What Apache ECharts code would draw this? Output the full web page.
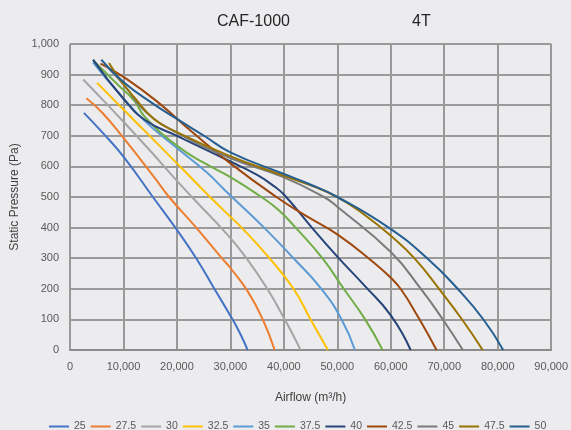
<!DOCTYPE html>
<html>
<head>
<meta charset="utf-8">
<script src="https://cdn.jsdelivr.net/npm/echarts@6/dist/echarts.min.js"></script>
<style>
html,body{margin:0;padding:0;background:#ececef;}
#chart{width:571px;height:430px;}
</style>
</head>
<body>
<div id="chart"></div>
<script>
// Fan curves: [airflow m3/h, static pressure Pa]
const s25   = [[2600,775],[6000,712],[10000,632],[15500,500],[19700,400],[23600,300],[27000,200],[29800,118],[31700,58],[33220,0]];
const s27_5 = [[3070,823],[6000,776],[10000,693],[15950,560],[18540,500],[23600,400],[28400,300],[30000,268],[33300,190],[36100,98],[38280,0]];
const s30   = [[2460,884],[6000,820],[10000,746],[15000,651],[19800,557],[22800,500],[29600,374],[33000,300],[36900,200],[39900,108],[41700,50],[43120,0]];
const s32_5 = [[5050,873],[10000,786],[15000,698],[20000,610],[23200,553],[26200,500],[29600,442],[32100,400],[37300,300],[41800,200],[45000,100],[48240,0]];
const s35   = [[4300,940],[9000,842],[13900,750],[20000,660],[25600,580],[28700,527],[30300,500],[36300,400],[41800,300],[47000,200],[50800,100],[53290,0]];
const s37_5 = [[4400,945],[9000,866],[12000,815],[14000,762],[20000,668],[25000,612],[30000,565],[35800,500],[38900,459],[42200,400],[47200,300],[51200,200],[55200,100],[58470,0]];
const s40   = [[4310,949],[10000,821],[14170,750],[20000,700],[30000,616],[35000,572],[38000,537],[40000,508],[45000,405],[50000,305],[55000,212],[60000,113],[63720,0]];
const s42_5 = [[5700,936],[10500,887],[16700,806],[22800,713],[30000,610],[38600,500],[44000,440],[50000,378],[56800,286],[60000,236],[62000,196],[65200,105],[68560,0]];
const s45   = [[6400,935],[10200,864],[13900,783],[20000,710],[29600,630],[39900,565],[47500,500],[50000,468],[60000,320],[65700,198],[69800,98],[73480,0]];
const s47_5 = [[7300,938],[9500,880],[12000,826],[15700,755],[20000,712],[29600,636],[39900,570],[45000,538],[50000,500],[55000,443],[60000,373],[64400,300],[69100,198],[73400,98],[77190,0]];
const s50   = [[5840,949],[10000,876],[15100,810],[20000,755],[25000,701],[30000,646],[39900,576],[44400,545],[50000,500],[59600,400],[66800,300],[72500,200],[77400,98],[81020,0]];

const seriesNames = ['25','27.5','30','32.5','35','37.5','40','42.5','45','47.5','50'];
const seriesData  = [s25,s27_5,s30,s32_5,s35,s37_5,s40,s42_5,s45,s47_5,s50];
const seriesColors = ['#4472C4','#ED7D31','#A5A5A5','#FFC000','#5B9BD5','#70AD47','#264478','#9E480E','#7A7A7A','#997300','#255E91'];

const titleMain = 'CAF-1000';
const titleSide = '4T';
const xName = 'Airflow (m\u00B3/h)';
const yName = 'Static Pressure (Pa)';

const fmt = v => Number(v).toLocaleString('en-US');
const font = "'Liberation Sans', Arial, sans-serif";

const chart = echarts.init(document.getElementById('chart'), null, {renderer:'canvas'});
chart.setOption({
  backgroundColor: '#ececef',
  animation: false,
  textStyle: {fontFamily: font},
  title: [
    {text: titleMain, left: 212, top: 9, textStyle:{fontSize:16, fontWeight:'normal', color:'#262626', fontFamily: font}},
    {text: titleSide, left: 407, top: 9, textStyle:{fontSize:16, fontWeight:'normal', color:'#262626', fontFamily: font}}
  ],
  grid: {left: 70, right: 15, top: 44, bottom: 80, containLabel: false},
  legend: {
    data: seriesNames,
    left: 44, top: 416, width: 527,
    icon: 'rect', itemWidth: 20, itemHeight: 2, itemGap: 5,
    textStyle: {fontSize: 10.5, color: '#595959', fontFamily: font}
  },
  xAxis: {
    type: 'value', min: 0, max: 90000, interval: 10000,
    name: xName, nameLocation: 'middle', nameGap: 42,
    nameTextStyle: {fontSize: 12, color: '#404040'},
    axisLine: {show: true, lineStyle: {color: '#8c8c8c', width: 2}},
    axisTick: {show: false},
    axisLabel: {formatter: fmt, fontSize: 11, color: '#595959', margin: 11},
    splitLine: {show: true, lineStyle: {color: '#999999', width: 2}}
  },
  yAxis: {
    type: 'value', min: 0, max: 1000, interval: 100,
    name: yName, nameLocation: 'middle', nameGap: 39,
    nameTextStyle: {fontSize: 12, color: '#404040'},
    axisLine: {show: false},
    axisTick: {show: false},
    axisLabel: {formatter: fmt, fontSize: 11, color: '#595959', margin: 11},
    splitLine: {show: true, lineStyle: {color: '#7f7f7f', width: 1.5}}
  },
  series: seriesNames.map((n, i) => ({
    name: n, type: 'line', data: seriesData[i],
    smooth: 0.5, showSymbol: false, symbol: 'none',
    lineStyle: {width: 2, color: seriesColors[i]},
    itemStyle: {color: seriesColors[i]}
  }))
});
</script>
</body>
</html>
